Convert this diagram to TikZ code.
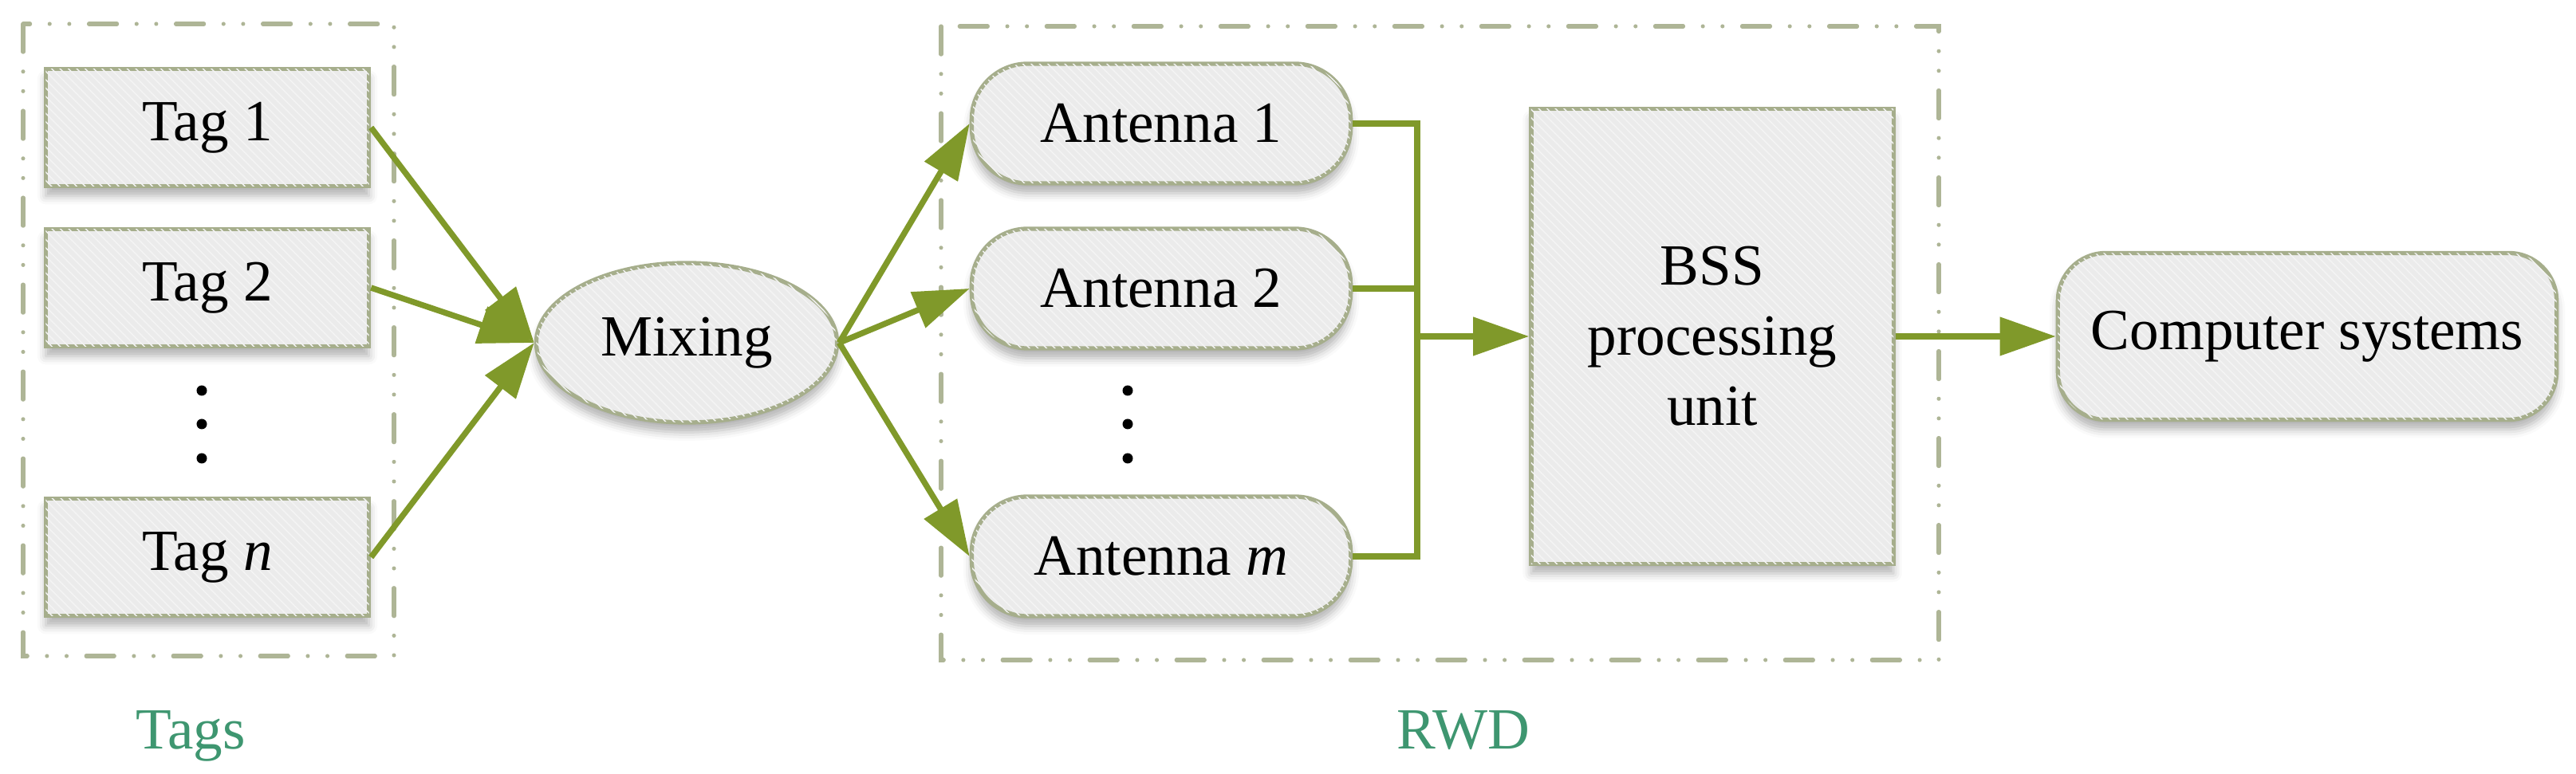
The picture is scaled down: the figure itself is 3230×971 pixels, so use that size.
\documentclass[tikz,border=0pt]{standalone}
\usepackage{fontspec}
\setmainfont{Liberation Serif}
\newfontfamily\diagfont{Liberation Serif}
\usetikzlibrary{arrows.meta,shadows.blur,patterns,shapes.geometric,calc}
\definecolor{arrowgreen}{RGB}{128,153,42}
\definecolor{framegray}{RGB}{174,181,150}
\definecolor{boxborder}{RGB}{166,174,140}
\definecolor{boxfill}{RGB}{235,235,235}
\definecolor{hatch}{RGB}{244,244,244}
\definecolor{labelgreen}{RGB}{62,150,112}
\begin{document}
\begin{tikzpicture}[x=0.01cm,y=-0.01cm,
  font=\diagfont\fontsize{20.8}{25}\selectfont,
  boxbase/.style={draw=boxborder, line width=1.5pt, fill=boxfill,
    blur shadow={shadow xshift=0pt, shadow yshift=-3.5pt, shadow blur radius=3pt, shadow opacity=30},
    postaction={pattern=north west lines, pattern color=hatch},
    inner sep=0pt, align=center},
  tagbox/.style={boxbase, rectangle, minimum width=4.05cm, minimum height=1.47cm},
  antbox/.style={boxbase, rectangle, rounded corners=0.7cm, minimum width=4.75cm, minimum height=1.5cm},
  mixbox/.style={boxbase, ellipse, minimum width=3.77cm, minimum height=2.0cm},
  bssbox/.style={boxbase, rectangle, minimum width=4.54cm, minimum height=5.7cm},
  compbox/.style={boxbase, rectangle, rounded corners=0.6cm, minimum width=6.25cm, minimum height=2.09cm},
  conn/.style={draw=arrowgreen, line width=2.1pt},
  arr/.style={conn, -{Triangle[length=0.7cm, width=0.47cm]}},
  groupframe/.style={draw=framegray, line width=1.45pt, line cap=round,
    dash pattern=on 10pt off 7pt on 0pt off 7pt on 0pt off 7pt},
  grouplabel/.style={text=labelgreen, anchor=base},
  vdot/.style={circle, fill=black, inner sep=0pt, minimum size=0.13cm}
]
\useasboundingbox (0,0) rectangle (3230,971);

% group frames
\draw[groupframe] (29,30) rectangle (494,823);
\draw[groupframe] (1180,33) rectangle (2431,828);

% tags
\node[tagbox] (tag1) at (260,160) {Tag 1};
\node[tagbox] (tag2) at (260,361) {Tag 2};
\node[tagbox] (tagn) at (260,699) {Tag \textit{n}};
\node[vdot] (td1) at (253,490) {};
\node[vdot] (td2) at (253,532) {};
\node[vdot] (td3) at (253,575) {};

% mixing
\node[mixbox] (mix) at (861,430) {Mixing};

% antennas
\node[antbox] (ant1) at (1456,155) {Antenna 1};
\node[antbox] (ant2) at (1456,362) {Antenna 2};
\node[antbox] (antm) at (1456,698) {Antenna \textit{m}};
\node[vdot] (ad1) at (1414,490) {};
\node[vdot] (ad2) at (1414,532) {};
\node[vdot] (ad3) at (1414,575) {};

% BSS and computer
\node[bssbox] (bss) at (2147,422) {BSS\\processing\\unit};
\node[compbox] (comp) at (2893,422) {Computer systems};

% labels
\node[grouplabel] (tagslbl) at (239,940) {Tags};
\node[grouplabel] (rwdlbl) at (1835,940) {RWD};

% connectors
\draw[arr] (tag1.east) -- (mix.west);
\draw[arr] (tag2.east) -- (mix.west);
\draw[arr] (tagn.east) -- (mix.west);
\draw[arr] (mix.east) -- (ant1.west);
\draw[arr] (mix.east) -- (ant2.west);
\draw[arr] (mix.east) -- (antm.west);

\coordinate (busx) at (1777,0);
\draw[conn] (ant1.east) -- (ant1.east -| busx) -- (antm.east -| busx) -- (antm.east);
\draw[conn] (ant2.east) -- (ant2.east -| busx);
\draw[arr] (bss.west -| busx) -- (bss.west);
\draw[arr] (bss.east) -- (comp.west);
\end{tikzpicture}
\end{document}
